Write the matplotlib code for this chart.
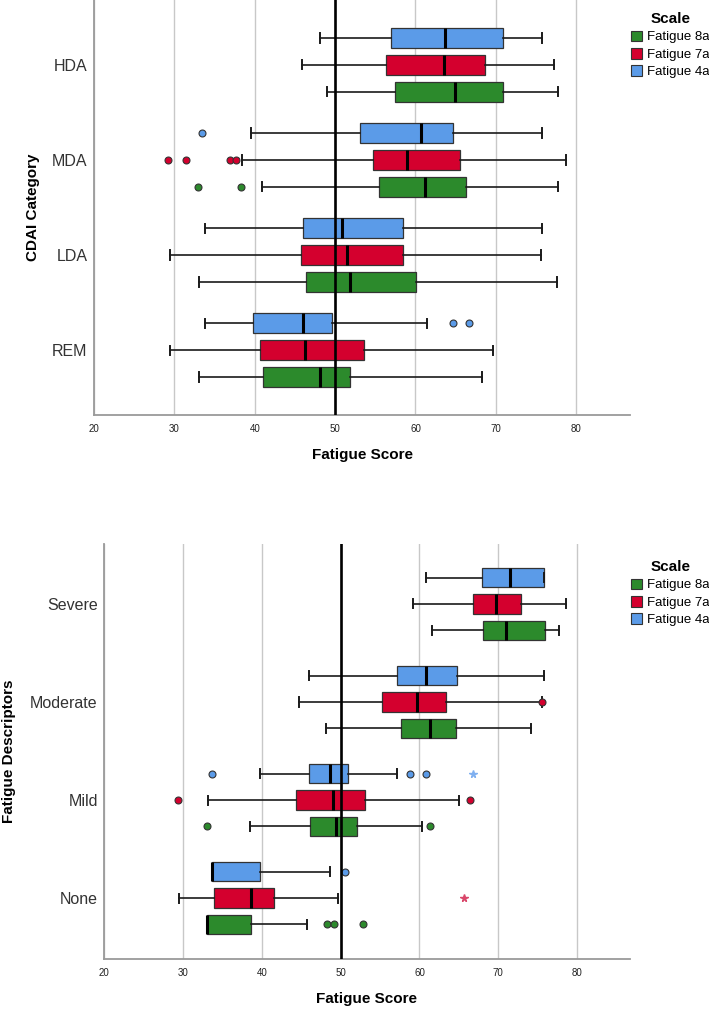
"""
Two horizontal box-plot panels: fatigue score by CDAI category and by
fatigue descriptor, three fatigue scales each (SPSS-style look).
"""
import numpy as np
import matplotlib
matplotlib.use("Agg")
import matplotlib.pyplot as plt
from matplotlib.patches import Patch

plt.rcParams['font.family'] = ['Liberation Sans', 'DejaVu Sans']

# series order, top to bottom inside each group
SCALES = ["Fatigue 4a", "Fatigue 7a", "Fatigue 8a"]
COLORS = ["#5b9be8", "#d4002e", "#2c8a2c"]
STAR_COLORS = ["#80b0f0", "#d9476a", "#5aa85a"]

# --- top panel: CDAI category (rows = 4a, 7a, 8a) ---------------------------
CDAI_CATS = ["HDA", "MDA", "LDA", "REM"]
cdai_whislo = [[48.1, 39.5, 33.8, 33.8],
               [45.9, 38.4, 29.4, 29.4],
               [49.0, 40.9, 33.1, 33.1]]
cdai_q1 = [[57.0, 53.1, 46.0, 39.8],
           [56.3, 54.75, 45.8, 40.6],
           [57.5, 55.5, 46.4, 41.0]]
cdai_med = [[63.7, 60.75, 50.85, 46.0],
            [63.5, 58.9, 51.5, 46.3],
            [64.9, 61.2, 51.8, 48.1]]
cdai_q3 = [[70.9, 64.7, 58.5, 49.6],
           [68.6, 65.6, 58.5, 53.65],
           [70.9, 66.25, 60.1, 51.9]]
cdai_whishi = [[75.8, 75.8, 75.8, 61.5],
               [77.25, 78.7, 75.6, 69.6],
               [77.7, 77.7, 77.6, 68.3]]
cdai_fliers = [[[], [33.5], [], [64.7, 66.7]],
               [[], [29.2, 31.5, 36.9, 37.7], [], []],
               [[], [32.9, 38.3], [], []]]
cdai_extremes = [[[], [], [], []],
                 [[], [], [], []],
                 [[], [], [], []]]

# --- bottom panel: fatigue descriptors ---------------------------------------
DESC_CATS = ["Severe", "Moderate", "Mild", "None"]
desc_whislo = [[60.8, 46.0, 39.8, 33.75],
               [59.2, 44.7, 33.2, 29.45],
               [61.6, 48.1, 38.5, 33.1]]
desc_q1 = [[67.9, 57.1, 46.0, 33.75],
           [66.8, 55.2, 44.4, 34.0],
           [68.1, 57.6, 46.1, 33.1]]
desc_med = [[71.5, 60.8, 48.65, 33.75],
            [69.7, 59.7, 49.1, 38.7],
            [71.0, 61.35, 49.4, 33.1]]
desc_q3 = [[75.8, 64.75, 50.9, 39.8],
           [72.9, 63.4, 53.1, 41.5],
           [75.9, 64.6, 52.1, 38.6]]
desc_whishi = [[75.8, 75.8, 57.1, 48.65],
               [78.6, 75.5, 65.0, 49.7],
               [77.7, 74.1, 60.3, 45.7]]
desc_fliers = [[[], [], [33.7, 58.85, 60.8], [50.6]],
               [[], [75.6], [29.4, 66.4], []],
               [[], [], [33.1, 61.3], [48.3, 49.2, 52.9]]]
desc_extremes = [[[], [], [66.8], []],
                 [[], [], [], [65.7]],
                 [[], [], [], []]]

X_TICKS = [20, 30, 40, 50, 60, 70, 80]
REF_LINE = 50


def draw_panel(ax, cats, whislo, q1, med, q3, whishi, fliers, extremes,
               offset, box_h, cap_w, ylim, ylabel):
    for i in range(len(SCALES)):
        stats = []
        for j in range(len(cats)):
            stats.append(dict(whislo=whislo[i][j], q1=q1[i][j], med=med[i][j],
                              q3=q3[i][j], whishi=whishi[i][j],
                              fliers=np.array(fliers[i][j])))
        pos = [j + (i - 1) * offset for j in range(len(cats))]
        ax.bxp(stats, positions=pos, widths=box_h, orientation='horizontal',
               patch_artist=True, manage_ticks=False, capwidths=cap_w,
               boxprops=dict(facecolor=COLORS[i], edgecolor='#333333', linewidth=0.9),
               medianprops=dict(color='black', linewidth=2.2, solid_capstyle='butt'),
               whiskerprops=dict(color='#1a1a1a', linewidth=1.2),
               capprops=dict(color='#1a1a1a', linewidth=1.4),
               flierprops=dict(marker='o', markersize=5, markerfacecolor=COLORS[i],
                               markeredgecolor='#333333', markeredgewidth=0.8))
        for j in range(len(cats)):
            if extremes[i][j]:
                ax.plot(extremes[i][j], [pos[j]] * len(extremes[i][j]), ls='none',
                        marker='*', markersize=5.5, color=STAR_COLORS[i], zorder=4)

    ax.axvline(REF_LINE, color='black', linewidth=1.9, zorder=5)
    ax.set_xlim(20, 86.7)
    ax.set_ylim(*ylim)
    ax.set_xticks(X_TICKS)
    ax.set_yticks(range(len(cats)))
    ax.set_yticklabels(cats)
    ax.xaxis.grid(True, color='#c8c8c8', linewidth=1.0)
    ax.set_axisbelow(True)
    for s in ['top', 'right']:
        ax.spines[s].set_visible(False)
    for s in ['left', 'bottom']:
        ax.spines[s].set_color('#9a9a9a')
        ax.spines[s].set_linewidth(1.3)
    ax.tick_params(axis='x', length=0, labelsize=7, pad=6.5, labelcolor='#222222')
    ax.tick_params(axis='y', length=0, labelsize=11.5, pad=4.5, labelcolor='#333333')
    ax.set_xlabel('Fatigue Score', fontsize=11, fontweight='bold')
    ax.set_ylabel(ylabel, fontsize=11, fontweight='bold')


fig = plt.figure(figsize=(7.09, 10.11), dpi=100)
W, H = 709, 1011

ax1 = fig.add_axes([94 / W, 1 - 415 / H, 536 / W, 415 / H])
draw_panel(ax1, CDAI_CATS, cdai_whislo, cdai_q1, cdai_med, cdai_q3, cdai_whishi,
           cdai_fliers, cdai_extremes, offset=0.284, box_h=0.21, cap_w=0.095,
           ylim=(3.684, -0.684), ylabel='CDAI Category')
ax1.xaxis.set_label_coords(0.5, -33 / 415)
ax1.yaxis.set_label_coords((40 - 94) / 536, 0.5)

ax2 = fig.add_axes([104 / W, 1 - 959 / H, 526 / W, 415 / H])
draw_panel(ax2, DESC_CATS, desc_whislo, desc_q1, desc_med, desc_q3, desc_whishi,
           desc_fliers, desc_extremes, offset=0.27, box_h=0.2, cap_w=0.092,
           ylim=(3.622, -0.612), ylabel='Fatigue Descriptors')
ax2.xaxis.set_label_coords(0.5, -33 / 415)
ax2.yaxis.set_label_coords((16 - 104) / 526, 0.5)

# legend: 8a, 7a, 4a order as in the reference
handles = [Patch(facecolor=COLORS[i], edgecolor='#333333', linewidth=0.8,
                 label=SCALES[i]) for i in (2, 1, 0)]
for top_px in (8, 556):
    fig.legend(handles=handles, title='Scale', loc='upper left',
               bbox_to_anchor=(627 / W, 1 - top_px / H), frameon=False,
               fontsize=9.5, title_fontproperties={'weight': 'bold', 'size': 11},
               handlelength=0.85, handleheight=0.85, handletextpad=0.4,
               labelspacing=0.35, borderpad=0.3, borderaxespad=0)

fig.savefig("out.png", dpi=100)
